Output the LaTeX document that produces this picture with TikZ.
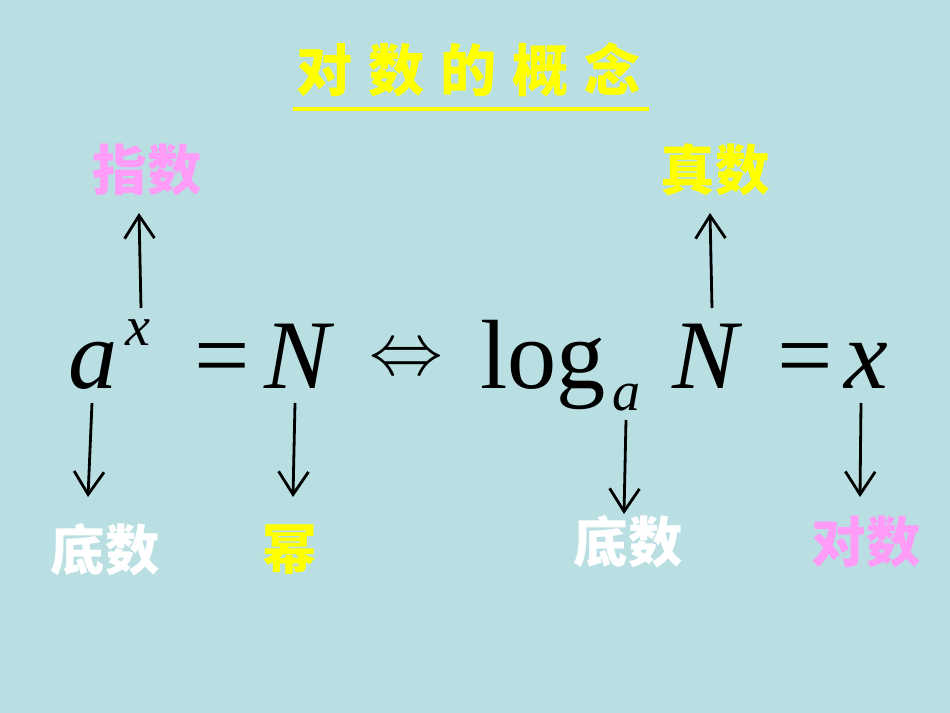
\documentclass[tikz,border=0pt]{standalone}
\usepackage{fontspec}
\setmainfont{Liberation Serif}
\newfontfamily\cjk{Noto Sans CJK SC}
\usetikzlibrary{arrows.meta}
\definecolor{bgc}{HTML}{B9DFE2}
\definecolor{pinkc}{HTML}{FF9CF8}
\definecolor{yelc}{HTML}{FFFF00}
\tikzset{
  math/.style={inner sep=0pt, anchor=base, font=\fontsize{56}{60}\selectfont},
  smallmath/.style={inner sep=0pt, anchor=base, font=\fontsize{32}{36}\selectfont},
  lbl/.style={inner sep=0pt, font=\cjk\bfseries\fontsize{31}{36}\selectfont},
  arr/.style={line width=1.6pt, -{Straight Barb[length=13pt, width=17pt, line width=1.6pt]}}
}
\begin{document}
\begin{tikzpicture}[x=0.02cm, y=-0.02cm]
\fill[bgc] (0,0) rectangle (950,713);
\useasboundingbox (0,0) rectangle (950,713);
% title
\node[inner sep=0pt, text=yelc, font=\cjk\bfseries\fontsize{32}{36}\selectfont] (title) at (469,70) {对\hspace{9pt}数\hspace{9pt}的\hspace{9pt}概\hspace{9pt}念};
\draw[yelc, line width=2.3pt] (293,109) -- (649,109);
% formula
\node[math] (a1) at (93,388) {\itshape a};
\node[smallmath] (x1) at (138,345) {\itshape x};
\node[math] (eq1) at (222,388) {=};
\node[math] (N1) at (297,388) {\itshape N};
\node[inner sep=0pt, anchor=center] (iff) at (406,361) {\scalebox{4.2}{$\Leftrightarrow$}};
\node[math] (log) at (543,388) {log};
\node[smallmath] (a2) at (627,410) {\itshape a};
\node[math] (N2) at (705,388) {\itshape N};
\node[math] (eq2) at (805,388) {=};
\node[math] (x2) at (866,388) {\itshape x};
% labels
\node[lbl, text=pinkc] (zhishu) at (147,170) {指数};
\node[lbl, text=yelc] (zhenshu) at (715,170) {真数};
\node[lbl, text=white] (dishu1) at (105,550) {底数};
\node[lbl, text=yelc] (mi) at (290,550) {幂};
\node[lbl, text=white] (dishu2) at (628,542) {底数};
\node[lbl, text=pinkc] (duishu) at (866,542) {对数};
% arrow ends
\coordinate (p1s) at (141,308); \coordinate (p1e) at (139,213);
\coordinate (p2s) at (712,308); \coordinate (p2e) at (710,213);
\coordinate (p3s) at (92,403);  \coordinate (p3e) at (88,497);
\coordinate (p4s) at (295,403); \coordinate (p4e) at (293,497);
\coordinate (p5s) at (626,420); \coordinate (p5e) at (624,514);
\coordinate (p6s) at (861,403); \coordinate (p6e) at (860,497);
\draw[arr] (p1s) -- (p1e);
\draw[arr] (p2s) -- (p2e);
\draw[arr] (p3s) -- (p3e);
\draw[arr] (p4s) -- (p4e);
\draw[arr] (p5s) -- (p5e);
\draw[arr] (p6s) -- (p6e);
\end{tikzpicture}
\end{document}
